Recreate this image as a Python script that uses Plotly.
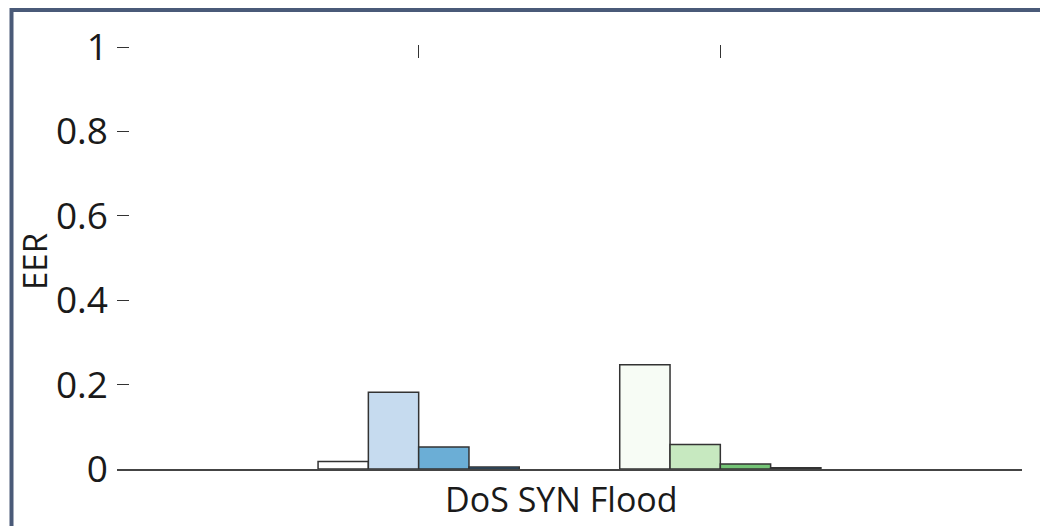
import plotly.graph_objects as go

# Data
category = "DoS SYN Flood"
group_positions = [1, 2]
blue_values = [0.018, 0.182, 0.052, 0.005]
green_values = [0.247, 0.058, 0.012, 0.003]
blue_colors = ["#ffffff", "#c6dbef", "#6baed6", "#2171b5"]
green_colors = ["#f7fcf5", "#c7e9c0", "#74c476", "#238b45"]
y_ticks = [0, 0.2, 0.4, 0.6, 0.8, 1]
y_ticktext = ["0", "0.2", "0.4", "0.6", "0.8", "1"]

# page has an 8px body margin; figure is sized to fit the window
OFF = 8
W, H = 1048 - OFF, 526 - OFF
# plot area in page pixels: left 117, right 1022, top 45, bottom 469
L = 117 - OFF
R = W - (1022 - OFF)
T = 45 - OFF
B = H - (469 - OFF)

fig = go.Figure()
for i in range(4):
    fig.add_trace(go.Bar(
        x=group_positions,
        y=[blue_values[i], green_values[i]],
        marker=dict(color=[blue_colors[i], green_colors[i]],
                    line=dict(color="#333333", width=1.5)),
        showlegend=False,
        hoverinfo="y",
    ))

font = "Open Sans, Noto Sans, sans-serif"


def px_x(page_px):
    return (page_px - OFF - L) / (W - L - R)


def px_y(page_py):
    return 1 - (page_py - OFF - T) / (H - T - B)


fig.update_layout(
    width=W, height=H,
    margin=dict(l=L, r=R, t=T, b=B, pad=0, autoexpand=False),
    paper_bgcolor="white", plot_bgcolor="white",
    barmode="group", bargap=0.333, bargroupgap=0,
    font=dict(family=font, color="#1a1a1a"),
    xaxis=dict(range=[0, 3], tickvals=[1.473], ticktext=[category],
               ticks="", showgrid=False, zeroline=False, automargin=False,
               showline=True, linecolor="#444444", linewidth=1.5,
               tickfont=dict(size=34, family=font, color="#1a1a1a"),
               ticklabelstandoff=0, fixedrange=True),
    xaxis2=dict(range=[0, 3], overlaying="x", side="top", automargin=False,
                tickvals=group_positions, ticks="inside", ticklen=13,
                tickcolor="#333333", tickwidth=1,
                showticklabels=False, showline=False, showgrid=False,
                zeroline=False, fixedrange=True),
    yaxis=dict(range=[0, 1.005], tickvals=y_ticks, ticktext=y_ticktext,
               ticks="inside", ticklen=12, tickcolor="#333333", tickwidth=1,
               showline=False, showgrid=False, zeroline=False, automargin=False,
               tickfont=dict(size=37, family=font, color="#1a1a1a"),
               ticklabelstandoff=8, fixedrange=True),
)

# invisible trace to activate top axis
fig.add_trace(go.Scatter(x=[None], y=[None], xaxis="x2", yaxis="y",
                         showlegend=False, hoverinfo="skip"))

fig.add_annotation(text="EER", textangle=-90, showarrow=False,
                   xref="paper", yref="paper",
                   x=px_x(34), y=px_y(262), xanchor="center", yanchor="middle",
                   font=dict(size=33, family=font, color="#1a1a1a"))

# frame border (cropped at right and bottom)
fig.add_shape(type="rect", xref="paper", yref="paper",
              x0=px_x(11.5), y0=px_y(600), x1=px_x(1200), y1=px_y(10),
              line=dict(color="#4a5a78", width=4), fillcolor="rgba(0,0,0,0)",
              layer="above")

fig.write_html("out.html")
